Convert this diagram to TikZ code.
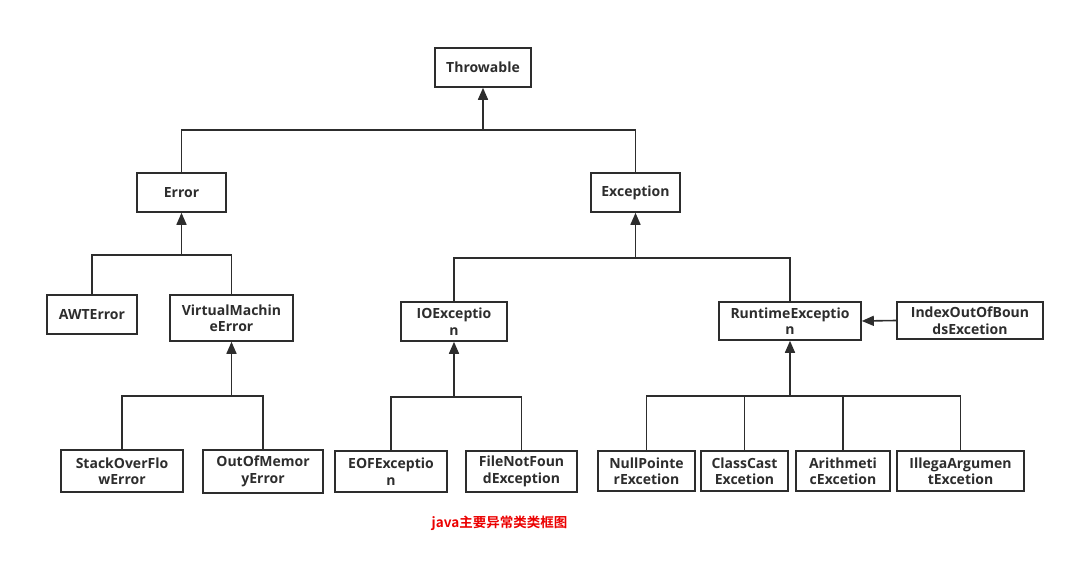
\documentclass[tikz,border=0pt]{standalone}
\usepackage{fontspec}
\setmainfont{Open Sans}
\newfontfamily\cjk{Noto Sans CJK SC}[BoldFont={Noto Sans CJK SC Bold}]
\usepackage{tikz}
\usetikzlibrary{arrows.meta, calc}
\definecolor{mydark}{RGB}{45,45,45}
\definecolor{myred}{RGB}{235,0,0}
\tikzset{
  clsbox/.style={rectangle, draw=mydark, fill=white, text=mydark,
    align=center, minimum height=39pt, inner sep=1pt,
    font=\fontsize{14}{16.5}\selectfont\bfseries, line width=1.6pt},
  arrow/.style={-{Triangle[width=10pt,length=12pt]}, line width=1.6pt, color=mydark},
  line/.style={line width=1.6pt, color=mydark}
}

\begin{document}
\begin{tikzpicture}[x=1pt, y=-1pt]
  \useasboundingbox (0,0) rectangle (1076,575);
  % top levels
  \node[clsbox, minimum width=96pt] (thr) at (483,67.5) {Throwable};
  \node[clsbox, minimum width=89pt] (err) at (181.5,192.5) {Error};
  \node[clsbox, minimum width=89pt] (exc) at (635.5,192.5) {Exception};
  % second level
  \node[clsbox, minimum width=90pt] (awt) at (92,314.5) {AWTError};
  \node[clsbox, minimum width=123pt, minimum height=46pt] (vme) at (231.5,318) {VirtualMachin\\eError};
  \node[clsbox, minimum width=106pt] (ioe) at (454,321.5) {IOExceptio\\n};
  \node[clsbox, minimum width=142pt, minimum height=38pt] (rte) at (790,321) {RuntimeExceptio\\n};
  \node[clsbox, minimum width=146pt, minimum height=37pt] (iob) at (970,320.5) {IndexOutOfBoun\\dsExcetion};
  % leaves
  \node[clsbox, minimum width=122pt, minimum height=42pt] (soe) at (122,471) {StackOverFlo\\wError};
  \node[clsbox, minimum width=120pt, minimum height=43pt] (oom) at (263,471.5) {OutOfMemor\\yError};
  \node[clsbox, minimum width=112pt, minimum height=41pt] (eof) at (391,471.5) {EOFExceptio\\n};
  \node[clsbox, minimum width=111pt, minimum height=41pt] (fnf) at (521.5,471.5) {FileNotFoun\\dException};
  \node[clsbox, minimum width=97pt, minimum height=40pt] (npe) at (646.5,471) {NullPointe\\rExcetion};
  \node[clsbox, minimum width=87pt, minimum height=40pt] (cce) at (744.5,471) {ClassCast\\Excetion};
  \node[clsbox, minimum width=94pt, minimum height=40pt] (ari) at (843,471) {Arithmeti\\cExcetion};
  \node[clsbox, minimum width=127pt, minimum height=40pt] (iae) at (960.5,471) {IllegaArgumen\\tExcetion};

  \node[font=\cjk\fontsize{13.5}{15}\selectfont\bfseries, text=myred] (cap) at (499.5,523) {java主要异常类类框图};

  % junctions
  \coordinate (topj) at (483,130);
  \coordinate (errj) at (181.5,255);
  \coordinate (excj) at (635.5,258);
  \coordinate (vmej) at (231.5,396);
  \coordinate (ioej) at (454,397);
  \coordinate (rtej) at (790,396);

  \draw[line] (err.north) |- (topj) -| (exc.north);
  \draw[arrow] (topj) -- (thr.south);
  \draw[line] (awt.north) |- (errj) -| (vme.north);
  \draw[arrow] (errj) -- (err.south);
  \draw[line] (ioe.north) |- (excj) -| (rte.north);
  \draw[arrow] (excj) -- (exc.south);
  \draw[line] (soe.north) |- (vmej) -| (oom.north);
  \draw[arrow] (vmej) -- (vme.south);
  \draw[line] (eof.north) |- (ioej) -| (fnf.north);
  \draw[arrow] (ioej) -- (ioe.south);
  \draw[line] (npe.north) |- (rtej) -| (iae.north);
  \draw[line] (cce.north) |- (rtej);
  \draw[line] (ari.north) |- (rtej);
  \draw[arrow] (rtej) -- (rte.south);
  \draw[arrow] (iob.west) -- (rte.east);
\end{tikzpicture}
\end{document}
